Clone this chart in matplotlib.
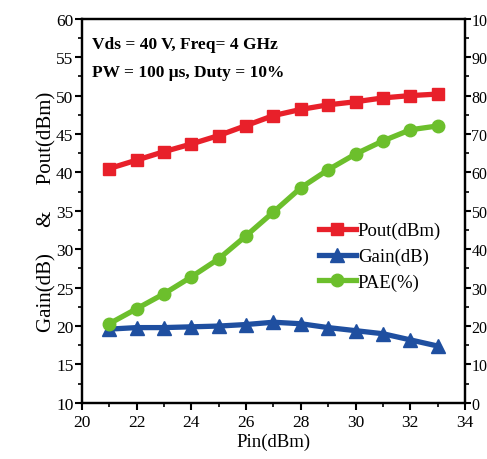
import matplotlib
matplotlib.use("Agg")
import matplotlib.pyplot as plt
from matplotlib.ticker import MultipleLocator

plt.rcParams['font.family'] = ['Liberation Serif', 'DejaVu Serif']

pin = [21, 22, 23, 24, 25, 26, 27, 28, 29, 30, 31, 32, 33]
pout = [40.5, 41.6, 42.7, 43.7, 44.8, 46.1, 47.4, 48.2, 48.8, 49.2, 49.7, 50.0, 50.2]
gain = [19.6, 19.8, 19.8, 19.9, 20.0, 20.2, 20.5, 20.3, 19.8, 19.4, 19.0, 18.2, 17.4]
pae = [20.6, 24.5, 28.4, 32.8, 37.5, 43.5, 49.7, 56.0, 60.7, 64.8, 68.2, 71.1, 72.1]

red = '#e8202a'
blue = '#1f4fa0'
green = '#6cbf2c'

fig = plt.figure(figsize=(4.87, 4.60), dpi=100)
ax = fig.add_axes([0.168, 0.122, 0.787, 0.835])
ax2 = ax.twinx()

l1, = ax.plot(pin, pout, color=red, lw=3.8, marker='s', ms=9, label='Pout(dBm)')
l2, = ax.plot(pin, gain, color=blue, lw=3.8, marker='^', ms=10, label='Gain(dB)')
l3, = ax2.plot(pin, pae, color=green, lw=3.8, marker='o', ms=9, label='PAE(%)')

ax.set_xlim(20, 34)
ax.set_ylim(10, 60)
ax2.set_ylim(0, 100)

ax.xaxis.set_major_locator(MultipleLocator(2))
ax.xaxis.set_minor_locator(MultipleLocator(1))
ax.yaxis.set_major_locator(MultipleLocator(5))
ax.yaxis.set_minor_locator(MultipleLocator(2.5))
ax2.yaxis.set_major_locator(MultipleLocator(10))
ax2.yaxis.set_minor_locator(MultipleLocator(5))

for a in (ax, ax2):
    a.tick_params(which='major', direction='out', length=5, width=1.5, labelsize=12.5, pad=1)
    a.tick_params(which='minor', direction='out', length=3, width=1.2)
    for s in a.spines.values():
        s.set_linewidth(1.6)
ax.tick_params(axis='x', which='major', pad=3)
ax2.tick_params(axis='y', which='major', length=4, labelsize=11.5, pad=0.5)

ax.set_xlabel('Pin(dBm)', fontsize=13.5, labelpad=2)
ax.set_ylabel('Gain(dB)     &     Pout(dBm)', fontsize=15, labelpad=0)

ax.text(0.026, 0.935, 'Vds = 40 V, Freq= 4 GHz', transform=ax.transAxes,
        fontsize=12.5, fontweight='bold', va='center', ha='left')
ax.text(0.026, 0.862, 'PW = 100 \u03bcs, Duty = 10%', transform=ax.transAxes,
        fontsize=12.5, fontweight='bold', va='center', ha='left')

ax.legend(handles=[l1, l2, l3], loc='upper left', bbox_to_anchor=(0.598, 0.49),
          frameon=False, handlelength=2.0, handletextpad=0.1,
          labelspacing=0.45, borderaxespad=0, prop={'size': 13.5})

fig.savefig('out.png', dpi=100)
